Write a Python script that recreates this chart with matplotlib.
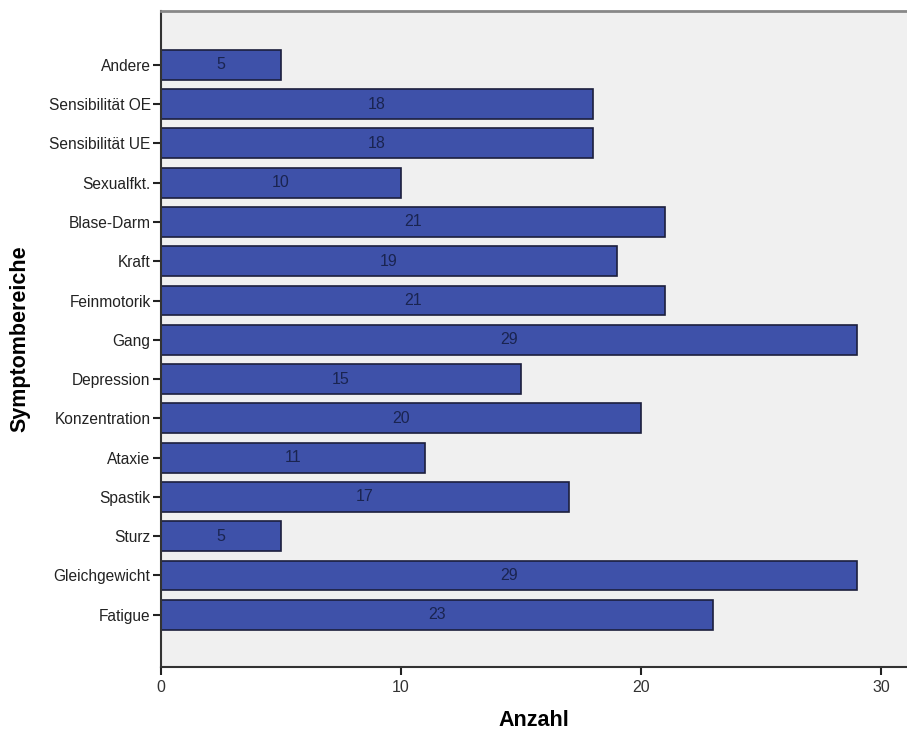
import matplotlib
matplotlib.use("Agg")
import matplotlib.pyplot as plt

categories = ["Fatigue", "Gleichgewicht", "Sturz", "Spastik", "Ataxie", "Konzentration",
              "Depression", "Gang", "Feinmotorik", "Kraft", "Blase-Darm", "Sexualfkt.",
              "Sensibilität UE", "Sensibilität OE", "Andere"]
values = [23, 29, 5, 17, 11, 20, 15, 29, 21, 19, 21, 10, 18, 18, 5]
xticks = [0, 10, 20, 30]

plt.rcParams['font.family'] = ['Liberation Sans', 'DejaVu Sans']

fig = plt.figure(figsize=(9.07, 7.34), dpi=100)
W, H = 907, 734
left, right, top, bottom = 161, 907, 11, 667
ax = fig.add_axes([left / W, 1 - bottom / H, (right - left) / W, (bottom - top) / H])
ax.set_facecolor('#f0f0f0')

pos = list(range(len(categories)))
bars = ax.barh(pos, values, height=0.76, color='#3e51a9', edgecolor='#1c1f3d', linewidth=1.2)
for p, v in zip(pos, values):
    ax.text(v / 2, p, str(v), ha='center', va='center', fontsize=11.5, color='#1a2450')

ax.set_xlim(0, (right - left) / 24.0)
ax.set_ylim(-1.33, len(categories) - 1 + 1.37)
ax.set_xticks(xticks)
ax.set_xticklabels([str(t) for t in xticks], fontsize=11.5, color='#333333')
ax.set_yticks(pos)
ax.set_yticklabels(categories, fontsize=11.2, color='#222222')
ax.tick_params(axis='both', length=6, width=1.5, color='#222222')
ax.tick_params(axis='y', pad=1.5)
ax.tick_params(axis='x', pad=3)

for s in ['left', 'bottom']:
    ax.spines[s].set_linewidth(1.5)
    ax.spines[s].set_color('#333333')
ax.spines['right'].set_visible(False)
ax.spines['top'].set_color('#888888')
ax.spines['top'].set_linewidth(2)

ax.set_xlabel('Anzahl', fontsize=15.5, fontweight='bold')
ax.set_ylabel('Symptombereiche', fontsize=15.5, fontweight='bold')
ax.yaxis.set_label_coords(-(161 - 30) / (907 - 161), 0.5)
ax.xaxis.set_label_coords(0.5, -(710 - 667) / (667 - 11))

fig.savefig('out.png', dpi=100, facecolor='white')
